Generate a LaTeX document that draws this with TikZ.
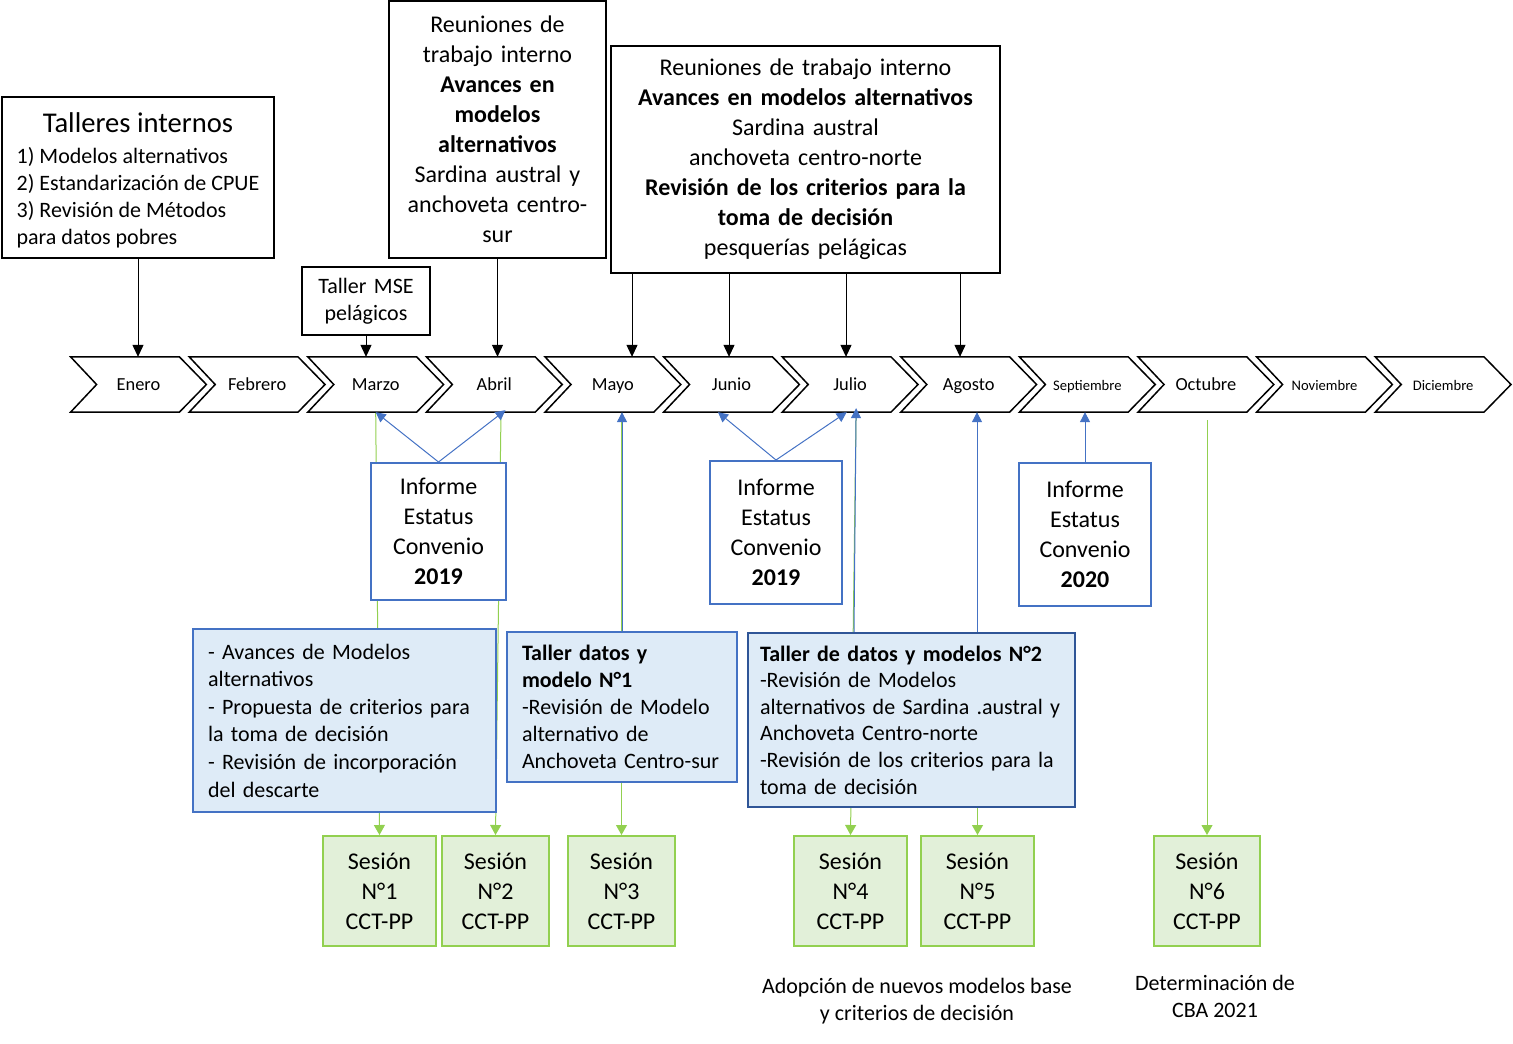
\documentclass[tikz,border=0pt]{standalone}
\usepackage{fontspec}
\setmainfont{Carlito}
\usepackage{tikz}
\usetikzlibrary{arrows.meta, backgrounds}
\definecolor{repblue}{RGB}{68, 114, 196}
\definecolor{darkblue}{RGB}{47, 85, 151}
\definecolor{paleblue}{RGB}{222, 235, 247}
\definecolor{repgreen}{RGB}{146, 208, 80}
\definecolor{palegreen}{RGB}{226, 240, 217}

\begin{document}
\begin{tikzpicture}[x=0.5pt, y=-0.5pt,
  chev/.style={draw=black, line width=0.75pt},
  month/.style={inner sep=0pt, minimum width=67.5pt, minimum height=27.25pt, text height=7pt, text depth=1pt},
  blackbox/.style={draw=black, line width=1pt, fill=white, align=center, inner sep=0pt, font=\fontsize{12}{15}\selectfont},
  infobox/.style={draw=repblue, line width=1pt, fill=white, align=center, inner sep=0pt, font=\fontsize{12}{15}\selectfont},
  taskbox/.style={draw=repblue, line width=1pt, fill=paleblue, align=left, inner xsep=7.5pt, inner ysep=0pt},
  sesbox/.style={draw=repgreen, line width=1pt, fill=palegreen, align=center, inner sep=0pt, minimum height=55pt, font=\fontsize{12}{15}\selectfont},
  note/.style={align=center, font=\fontsize{11}{13.5}\selectfont},
  arr/.style={draw=black, line width=0.5pt, -{Triangle[width=5.5pt, length=6pt]}},
  barr/.style={draw=repblue, line width=0.5pt, -{Triangle[width=5pt, length=5pt]}},
  garr/.style={draw=repgreen, line width=0.5pt, -{Triangle[width=5.5pt, length=5pt]}}]

  \useasboundingbox (0, 0) rectangle (1513, 1043);

  % months
  \foreach \mname/\msize [count=\i] in {Enero/9.2, Febrero/9.2, Marzo/9.2, Abril/9.2, Mayo/9.2, Junio/9.2,
      Julio/9.2, Agosto/9.2, Septiembre/7.3, Octubre/9.2, Noviembre/7.3, Diciembre/7.3} {
    \node[month, font=\fontsize{\msize}{11}\selectfont] (m\i) at ({138.5 + 118.6*(\i-1)}, 384.5) {\mname};
    \draw[chev] (m\i.north west) -- ([xshift=-13.5pt]m\i.north east) -- (m\i.east)
      -- ([xshift=-13.5pt]m\i.south east) -- (m\i.south west) -- ([xshift=13pt]m\i.west) -- cycle;
  }

  % boxes above
  \node[blackbox, font=\fontsize{11}{13.5}\selectfont, minimum width=136pt, minimum height=80.5pt] (talleres) at (138, 177.5)
    {\begin{tabular}{@{}l@{}}
       \multicolumn{1}{@{}c@{}}{\fontsize{14.3}{17}\selectfont Talleres internos}\\[2pt]
       1) Modelos alternativos\\2) Estandarización de CPUE\\3) Revisión de Métodos\\para datos pobres\\[-5pt]
     \end{tabular}};
  \node[blackbox, font=\fontsize{11}{13.5}\selectfont, text width=64pt, minimum height=34pt] (mse) at (366, 301)
    {Taller MSE\\pelágicos};
  \node[blackbox, text width=108.5pt, minimum height=128.5pt] (reuA) at (497.5, 129.5)
    {Reuniones de\\trabajo interno\\\textbf{Avances en}\\\textbf{modelos}\\\textbf{alternativos}\\Sardina austral y\\anchoveta centro-\\sur};
  \node[blackbox, text width=194.5pt, minimum height=113.5pt] (reuB) at (805.5, 159.5)
    {Reuniones de trabajo interno\\\textbf{Avances en modelos alternativos}\\Sardina austral\\anchoveta centro-norte\\
     \textbf{Revisión de los criterios para la}\\\textbf{toma de decisión}\\pesquerías pelágicas};

  \draw[arr] (talleres.south) -- (talleres.south |- m1.north);
  \draw[arr] (mse.south) -- (mse.south |- m3.north);
  \draw[arr] (reuA.south) -- (reuA.south |- m4.north);
  \foreach \dx/\m in {-86.75/5, -38.25/6, 20.25/7, 77.25/8}
    \draw[arr] ([xshift=\dx pt]reuB.south) -- ([xshift=\dx pt]reuB.south |- m\m.north);

  % reports
  \node[infobox, text width=67.5pt, minimum height=68.5pt] (infA) at (438.5, 531.5)
    {Informe\\Estatus\\Convenio\\\textbf{2019}};
  \node[infobox, text width=66pt, minimum height=71.5pt] (infB) at (776, 532.5)
    {Informe\\Estatus\\Convenio\\\textbf{2019}\\[-4pt]};
  \node[infobox, text width=66pt, minimum height=71.5pt] (infC) at (1085, 534.5)
    {Informe\\Estatus\\Convenio\\\textbf{2020}\\[-2pt]};

  % workshops
  \node[taskbox, text width=136.5pt, minimum height=91.5pt, font=\fontsize{11}{13.8}\selectfont] (avances) at (344.5, 720.5)
    {- Avances de Modelos\\alternativos\\- Propuesta de criterios para\\la toma de decisión\\- Revisión de incorporación\\del descarte};
  \node[taskbox, text width=100pt, minimum height=75pt, font=\fontsize{11}{13.5}\selectfont] (tdm1) at (622, 707)
    {\textbf{Taller datos y}\\\textbf{modelo N°1}\\-Revisión de Modelo\\alternativo de\\Anchoveta Centro-sur};
  \node[taskbox, draw=darkblue, inner xsep=6pt, text width=151.5pt, minimum height=87pt, font=\fontsize{11}{13.3}\selectfont] (tdm2) at (911.5, 720)
    {\textbf{Taller de datos y modelos N°2}\\-Revisión de Modelos\\alternativos de Sardina .austral y\\
     Anchoveta Centro-norte\\-Revisión de los criterios para la\\toma de decisión};

  \draw[barr] (infA.north) -- (m3.south);
  \draw[barr] (infA.north) -- ([xshift=5.6pt, yshift=1pt]m4.south);
  \draw[barr] (infB.north) -- ([xshift=-6.75pt]m6.south);
  \draw[barr] (infB.north) -- ([xshift=-1.7pt]m7.south);
  \draw[barr] (infC.north) -- (infC.north |- m9.south);
  \draw[barr] (tdm1.north) -- (tdm1.north |- m5.south);
  \draw[barr] ([xshift=-28.75pt]tdm2.north) -- ([xshift=3pt, yshift=2pt]m7.south);
  \draw[barr] ([xshift=32.75pt]tdm2.north) -- ([xshift=32.75pt]tdm2.north |- m8.south);

  % sessions
  \foreach \n/\cx/\w in {1/379.5/56.5, 2/495.5/53.5, 3/621.5/53.5, 4/850.5/56.5, 5/977.5/56.5, 6/1207/53}
    \node[sesbox, text width=\w pt] (s\n) at (\cx, 891) {Sesión\\N°\n\\CCT-PP};

  \coordinate (oct) at ([yshift=-4pt]m10.south);
  \begin{pgfonlayer}{background}
    \draw[garr] (m3.south) -- (s1.north);
    \draw[garr] ([xshift=3.35pt]m4.south) -- (s2.north);
    \draw[garr] (s3.north |- m5.south) -- (s3.north);
    \draw[garr] ([xshift=3pt]m7.south) -- (s4.north);
    \draw[garr] (s5.north |- m8.south) -- (s5.north);
    \draw[garr] (s6.north |- oct) -- (s6.north);
  \end{pgfonlayer}

  \node[note] (adopcion) at (917, 1001.5) {Adopción de nuevos modelos base\\y criterios de decisión};
  \node[note] (cba) at (1215, 996.5) {Determinación de\\CBA 2021};

\end{tikzpicture}
\end{document}
